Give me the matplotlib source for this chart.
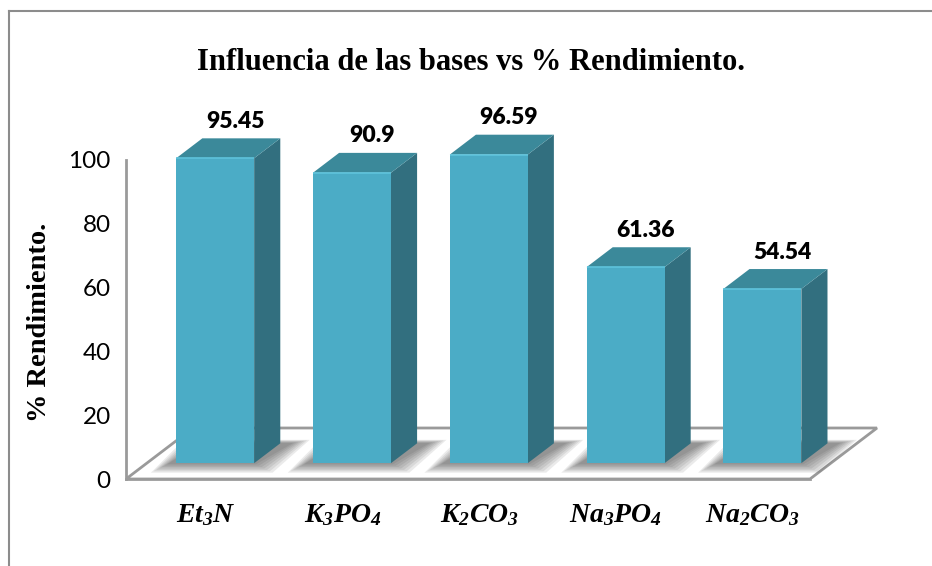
import matplotlib
matplotlib.use('Agg')
import matplotlib.pyplot as plt
from matplotlib.patches import Polygon
import numpy as np

bases = [r'$Et_3N$', r'$K_3PO_4$', r'$K_2CO_3$', r'$Na_3PO_4$', r'$Na_2CO_3$']
rendimiento = [95.45, 90.9, 96.59, 61.36, 54.54]
yticks = [0, 20, 40, 60, 80, 100]

plt.rcParams['mathtext.fontset'] = 'custom'
plt.rcParams['mathtext.it'] = 'Liberation Serif:italic:bold'
plt.rcParams['mathtext.rm'] = 'Liberation Serif:italic:bold'

W, H = 932, 566
fig = plt.figure(figsize=(W / 100, H / 100), dpi=100)

# front plane of the 3D box: x in category units, y in % units
x0_px, y0_px = 126, 479
cat_px = 136.8
val_px = 3.195
ax = fig.add_axes([x0_px / W, (H - y0_px) / H, cat_px * 5.6 / W, val_px * 120 / H])
ax.set_xlim(0, 5.6)
ax.set_ylim(0, 120)

# oblique depth vector (one full floor depth)
DX, DY = 67 / cat_px, 51 / val_px
z0, dz = 0.31, 0.39
bw = 0.57

edge = '#9a9a9a'
front_c = '#4bacc6'
side_c = '#326f7f'
top_c = '#3b899a'

# floor
floor = Polygon([(0, 0), (5, 0), (5 + DX, DY), (DX, DY)], closed=True,
                facecolor='white', edgecolor=edge, lw=2.0, zorder=1)
ax.add_patch(floor)

n = len(rendimiento)
xc = np.arange(n) + 0.5

# soft shadows on the floor
for i in range(n):
    xl = xc[i] - bw / 2
    for k in range(7):
        g = 0.015 + 0.02 * k
        pts = [(xl - g - 0.05 + z0 * DX, z0 * DY - g * 22),
               (xl + bw + g + z0 * DX, z0 * DY - g * 22),
               (xl + bw + g + 0.08 + (z0 + dz) * DX, (z0 + dz) * DY + g * 8),
               (xl - g + (z0 + dz) * DX, (z0 + dz) * DY + g * 8)]
        ax.add_patch(Polygon(pts, closed=True, facecolor='#3a3a3a', alpha=0.1,
                             edgecolor='none', zorder=2))

# bars: front face, side face, top face
ax.bar(xc + z0 * DX, rendimiento, width=bw, bottom=z0 * DY, color=front_c,
       edgecolor='none', zorder=4)
for i, v in enumerate(rendimiento):
    xl = xc[i] - bw / 2 + z0 * DX
    xr = xl + bw
    yb = z0 * DY
    yt = v + z0 * DY
    side = Polygon([(xr, yb), (xr + dz * DX, yb + dz * DY),
                    (xr + dz * DX, yt + dz * DY), (xr, yt)],
                   closed=True, facecolor=side_c, edgecolor='none', zorder=3)
    top = Polygon([(xl, yt), (xr, yt), (xr + dz * DX, yt + dz * DY),
                   (xl + dz * DX, yt + dz * DY)],
                  closed=True, facecolor=top_c, edgecolor='none', zorder=5)
    ax.add_patch(side)
    ax.add_patch(top)
    ax.plot([xl, xr], [yt, yt], color='#5ec3dc', lw=1.2, zorder=6,
            solid_capstyle='butt')
    ax.text(xc[i] + (z0 + dz / 2) * DX + 0.05, yt + dz * DY + 2.0, f'{v:g}',
            ha='center', va='bottom', fontsize=16.5, fontweight='heavy',
            family='Lato', zorder=7)

# axes lines and labels
for s in ['top', 'right']:
    ax.spines[s].set_visible(False)
ax.spines['left'].set_bounds(0, 100)
ax.spines['bottom'].set_bounds(0, 5)
for s in ['left', 'bottom']:
    ax.spines[s].set_color(edge)
    ax.spines[s].set_linewidth(2.0)
    ax.spines[s].set_zorder(8)
ax.set_yticks(yticks)
ax.set_yticklabels([str(t) for t in yticks], fontsize=17.5, family='Lato')
ax.set_xticks(xc + 0.08)
ax.set_xticklabels(bases, fontsize=20)
ax.tick_params(axis='y', length=0, pad=11)
ax.tick_params(axis='x', length=0, pad=15)
ax.patch.set_visible(False)

fig.text(471 / W, 1 - 62 / H, 'Influencia de las bases vs % Rendimiento.',
         ha='center', va='center', fontsize=22, fontweight='bold',
         family='Liberation Serif')
fig.text(40 / W, 1 - 322 / H, '% Rendimiento.', rotation=90,
         ha='center', va='center', fontsize=20.5, fontweight='bold',
         family='Liberation Serif')

# chart area border
fig.add_artist(plt.Line2D([9 / W, 9 / W], [0, 1 - 11 / H], color='#8c8c8c',
                          lw=1.5, transform=fig.transFigure))
fig.add_artist(plt.Line2D([9 / W, 1], [1 - 11 / H, 1 - 11 / H], color='#8c8c8c',
                          lw=1.5, transform=fig.transFigure))

plt.savefig('out.png', dpi=100)
